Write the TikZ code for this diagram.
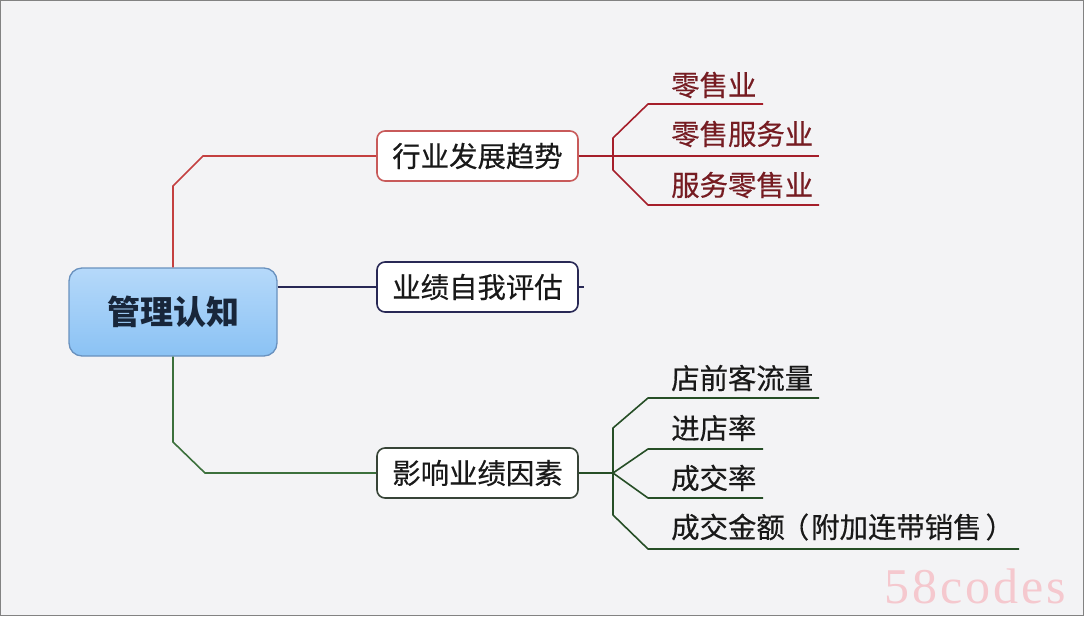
\documentclass[tikz,border=0pt]{standalone}
\usepackage{fontspec}
\newfontfamily\cjk{Noto Sans CJK SC}
\newfontfamily\cjkm[FakeBold=0.4]{Noto Sans CJK SC}
\newfontfamily\wmfont[LetterSpace=6]{Liberation Serif}
\definecolor{bgc}{RGB}{243,243,245}
\definecolor{frame}{RGB}{130,130,130}
\definecolor{redline}{RGB}{196,64,64}
\definecolor{redsub}{RGB}{165,30,42}
\definecolor{redtext}{RGB}{118,28,34}
\definecolor{redbox}{RGB}{200,90,90}
\definecolor{navy}{RGB}{40,40,85}
\definecolor{greenline}{RGB}{60,112,60}
\definecolor{greensub}{RGB}{38,78,38}
\definecolor{greenbox}{RGB}{55,68,55}
\definecolor{roottop}{RGB}{182,217,250}
\definecolor{rootbot}{RGB}{138,194,244}
\definecolor{rootborder}{RGB}{105,145,190}
\definecolor{roottext}{RGB}{24,38,58}
\definecolor{wm}{RGB}{245,200,206}
\definecolor{leaftext}{RGB}{25,25,25}
\begin{document}
\begin{tikzpicture}[x=1pt,y=-1pt,
  rootbox/.style={draw=rootborder, line width=1.3pt, rounded corners=13pt,
    top color=roottop, bottom color=rootbot, minimum width=208pt, minimum height=88pt,
    inner sep=0pt, font=\cjk\fontsize{33}{36}\selectfont\bfseries, text=roottext},
  branchbox/.style={fill=white, line width=1.6pt, rounded corners=8pt,
    minimum width=201pt, minimum height=50pt, inner sep=0pt,
    font=\cjkm\fontsize{28.4}{30}\selectfont, text=leaftext},
  leaf/.style={anchor=west, inner sep=0pt, font=\cjkm\fontsize{28.4}{30}\selectfont},
  mainline/.style={line width=1.6pt},
  subline/.style={line width=1.6pt, line join=round}
]
\fill[bgc] (0,0) rectangle (1084,616);
\draw[frame, line width=1pt] (0.5,0.5) rectangle (1083.5,615.5);

% root and branches
\node[rootbox] (root) at (173,312) {管理认知};
\node[branchbox, draw=redbox] (b1) at (477.5,156) {行业发展趋势};
\node[branchbox, draw=navy] (b2) at (477.5,287) {业绩自我评估};
\node[branchbox, draw=greenbox] (b3) at (477.5,473) {影响业绩因素};

% main connectors
\draw[mainline, redline] (root.north) -- (173,186) -- (203,156) -- (b1.west);
\draw[navy, line width=2.4pt] (b2.west -| root.east) -- (b2.west);
\draw[mainline, greenline] (root.south) -- (173,442) -- (205,473) -- (b3.west);
\draw[navy, line width=1.4pt] (b2.east) -- ++(5,0);

% red leaves
\coordinate (rf) at (613,156);
\node[leaf, text=redtext] (r1) at (671,85) {零售业};
\node[leaf, text=redtext] (r2) at (671,134) {零售服务业};
\node[leaf, text=redtext] (r3) at (671,185) {服务零售业};
\draw[subline, redsub] (b1.east) -- (rf);
\draw[subline, redsub] (rf) -- (613,138) -- (648,104) -- (763,104);
\draw[subline, redsub] (rf) -- (819,156);
\draw[subline, redsub] (rf) -- (613,170) -- (648,205) -- (819,205);

% green leaves
\coordinate (gf) at (613,473);
\node[leaf, text=leaftext] (g1) at (671,378) {店前客流量};
\node[leaf, text=leaftext] (g2) at (671,428) {进店率};
\node[leaf, text=leaftext] (g3) at (671,478) {成交率};
\node[leaf, text=leaftext] (g4) at (671,527) {成交金额\kern-4pt（\kern2pt附加连带销售\kern4pt）};
\draw[subline, greensub] (b3.east) -- (gf);
\draw[subline, greensub] (gf) -- (613,428) -- (648,398) -- (819,398);
\draw[subline, greensub] (gf) -- (648,449) -- (763,449);
\draw[subline, greensub] (gf) -- (648,498) -- (763,498);
\draw[subline, greensub] (gf) -- (613,515) -- (648,549) -- (1019,549);

% watermark
\node[anchor=base west, inner sep=0pt, text=wm, font=\wmfont\fontsize{50}{50}\selectfont] (wmk) at (884,603) {58codes};
\end{tikzpicture}
\end{document}
